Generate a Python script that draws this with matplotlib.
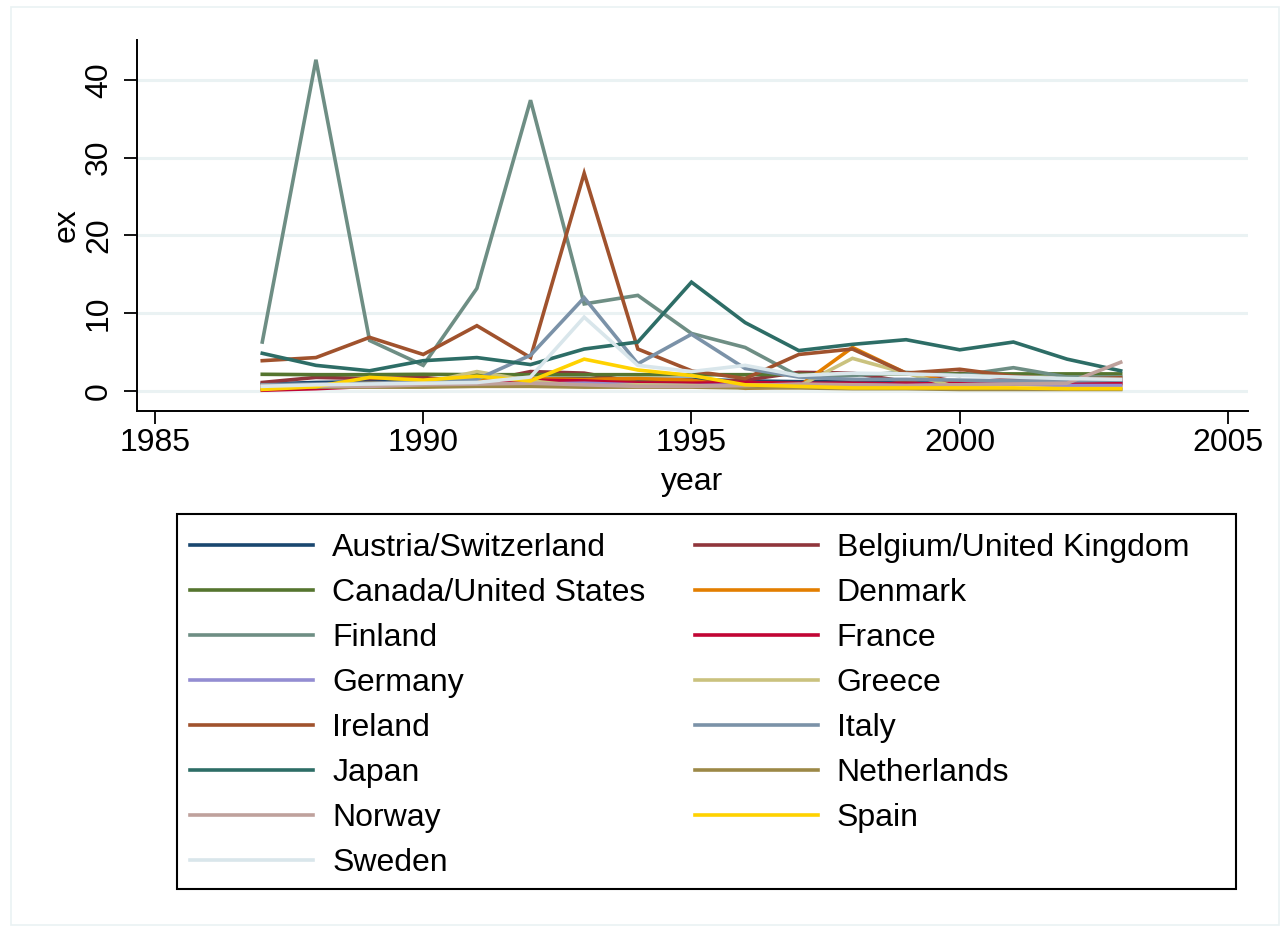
import numpy as np
import matplotlib
matplotlib.use("Agg")
import matplotlib.pyplot as plt
from matplotlib.patches import Rectangle

plt.rcParams["font.family"] = ["Liberation Sans", "DejaVu Sans"]

years = list(range(1987, 2004))

austria = [0.9, 1.1, 1.2, 1.3, 1.5, 1.6, 1.6, 1.5, 1.5, 1.3, 1.2, 1.3, 1.2, 1.3, 1.2, 1.1, 1.2]
belgium = [1.1, 1.75, 1.6, 1.75, 1.1, 2.5, 2.3, 1.1, 1.1, 1.4, 2.4, 2.3, 1.2, 2.3, 1.6, 1.1, 1.5]
canada = [2.15, 2.1, 2.1, 2.15, 2.1, 2.1, 2.1, 2.1, 2.1, 2.1, 2.15, 2.2, 2.2, 2.2, 2.2, 2.2, 2.2]
denmark = [0.6, 0.8, 1.0, 1.2, 1.3, 1.6, 1.5, 1.6, 1.4, 0.35, 0.6, 5.6, 2.3, 1.0, 0.9, 0.8, 0.8]
finland = [6.3, 42.6, 6.5, 3.3, 13.2, 37.4, 11.2, 12.3, 7.4, 5.6, 1.9, 2.0, 2.4, 2.0, 3.0, 1.8, 1.8]
france = [0.1, 0.3, 0.6, 0.9, 1.0, 1.4, 1.3, 1.0, 1.0, 1.1, 1.0, 1.0, 0.9, 1.0, 0.9, 0.9, 1.0]
germany = [0.5, 0.6, 0.6, 0.7, 0.8, 0.9, 1.0, 0.8, 0.7, 0.8, 0.8, 0.8, 0.7, 0.8, 0.9, 0.7, 0.7]
greece = [0.5, 0.6, 0.8, 1.0, 2.5, 1.3, 0.6, 0.8, 0.7, 0.5, 0.6, 4.2, 2.3, 0.4, 0.3, 0.3, 0.3]
ireland = [3.9, 4.3, 6.9, 4.7, 8.4, 4.3, 28.0, 5.4, 2.6, 1.6, 4.7, 5.4, 2.3, 2.8, 1.9, 1.5, 1.7]
italy = [0.8, 0.9, 1.0, 1.2, 1.5, 4.6, 12.0, 3.5, 7.3, 2.9, 1.8, 1.5, 1.5, 1.4, 1.3, 1.3, 1.4]
japan = [4.85, 3.3, 2.6, 3.9, 4.3, 3.4, 5.4, 6.3, 14.0, 8.8, 5.2, 6.0, 6.6, 5.3, 6.3, 4.1, 2.6]
netherlands = [0.4, 0.5, 0.5, 0.5, 0.6, 0.6, 0.5, 0.5, 0.5, 0.4, 0.4, 0.3, 0.3, 0.2, 0.2, 0.2, 0.2]
norway = [0.7, 0.6, 0.6, 0.8, 0.9, 1.0, 0.8, 0.6, 0.6, 0.7, 0.9, 0.8, 0.7, 0.8, 0.9, 1.0, 3.7]
spain = [0.2, 0.55, 1.75, 1.4, 1.9, 1.3, 4.1, 2.7, 2.0, 0.8, 0.6, 0.4, 0.4, 0.4, 0.4, 0.3, 0.3]
sweden = [0.6, 0.8, 0.9, 1.0, 1.1, 1.8, 9.5, 3.3, 2.5, 3.3, 2.0, 2.3, 2.2, 2.0, 1.8, 1.6, 1.5]

names = ["Austria/Switzerland", "Belgium/United Kingdom", "Canada/United States",
         "Denmark", "Finland", "France", "Germany", "Greece", "Ireland", "Italy",
         "Japan", "Netherlands", "Norway", "Spain", "Sweden"]
series = [austria, belgium, canada, denmark, finland, france, germany, greece,
          ireland, italy, japan, netherlands, norway, spain, sweden]

# stata s2color palette
colors = ["#1a476f", "#90353b", "#55752f", "#e37e00", "#6e8e84", "#c10534",
          "#938dd2", "#cac27e", "#a0522d", "#7b92a8", "#2d6d66", "#9c8847",
          "#bfa19c", "#ffd200", "#d9e6eb"]

W, H = 1282, 926
fig = plt.figure(figsize=(W / 100, H / 100), dpi=100)
fig.patches.append(Rectangle((11 / W, 1 - 925 / H), 1268 / W, 918 / H,
                             transform=fig.transFigure, fill=False,
                             edgecolor="#eaf2f3", lw=1.2))

ax = fig.add_axes([137 / W, 1 - 411 / H, 1111 / W, 371 / H])

for v in [0, 10, 20, 30, 40]:
    ax.axhline(v, color="#eaf2f3", lw=2.2, zorder=0)

lines = []
for name, vals, c in zip(names, series, colors):
    ln, = ax.plot(years, vals, color=c, lw=2.6, label=name, solid_joinstyle="miter")
    lines.append(ln)

ax.set_xlim(1984.665, 2005.373)
ax.set_ylim(-2.57, 45.14)
ax.set_xticks([1985, 1990, 1995, 2000, 2005])
ax.set_yticks([0, 10, 20, 30, 40])
ax.tick_params(axis="both", labelsize=23, length=9.5, width=1.3, color="black")
ax.tick_params(axis="x", pad=3)
ax.tick_params(axis="y", pad=7)
for lab in ax.get_yticklabels():
    lab.set_rotation(90)
    lab.set_va("center")

for side in ["top", "right"]:
    ax.spines[side].set_visible(False)
for side in ["left", "bottom"]:
    ax.spines[side].set_linewidth(1.4)

ax.set_xlabel("year", fontsize=23, labelpad=6)
ax.set_ylabel("ex", fontsize=23, labelpad=2)

# legend box drawn separately, entries in two columns
fig.patches.append(Rectangle((177 / W, 1 - 889 / H), 1059 / W, 375 / H,
                             transform=fig.transFigure, fill=True, facecolor="white",
                             edgecolor="black", lw=1.5))
order = list(range(0, 15, 2)) + list(range(1, 15, 2))
leg = fig.legend([lines[i] for i in order], [names[i] for i in order],
                 ncol=2, loc="upper left", bbox_to_anchor=(190 / W, 1 - 533 / H),
                 fontsize=23, handlelength=3.85, handletextpad=0.6,
                 columnspacing=1.54, labelspacing=0.47, borderpad=0,
                 borderaxespad=0, frameon=False)
for h in leg.legend_handles:
    h.set_linewidth(2.6)

fig.savefig("out.png", dpi=100)
